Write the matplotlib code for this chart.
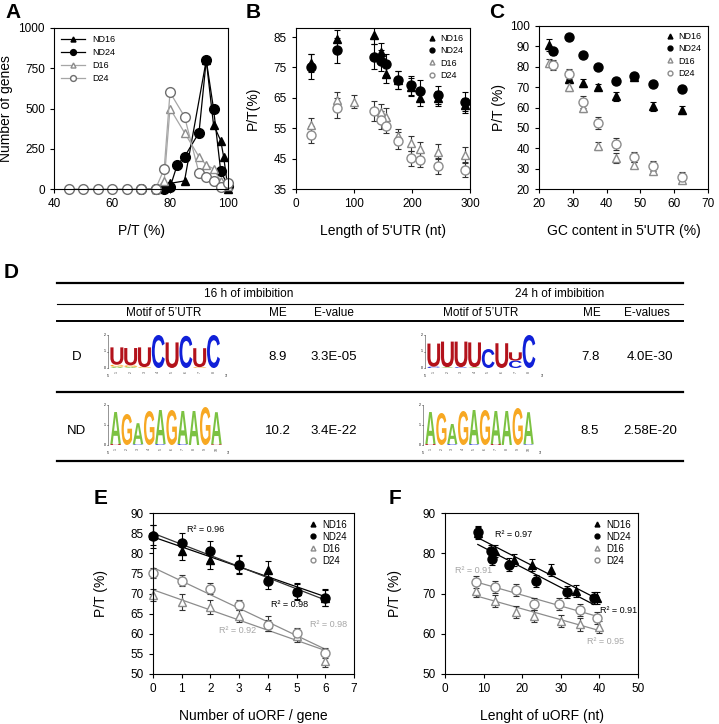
import matplotlib
matplotlib.use('Agg')
import matplotlib.pyplot as plt
import numpy as np
from matplotlib.textpath import TextPath
from matplotlib.patches import PathPatch
from matplotlib.font_manager import FontProperties
from matplotlib.transforms import Affine2D

plt.rcParams.update({
    'font.family': 'Liberation Sans',
    'xtick.direction': 'out',
    'ytick.direction': 'out',
    'xtick.major.size': 3,
    'ytick.major.size': 3,
    'xtick.labelsize': 8.5,
    'ytick.labelsize': 8.5,
    'axes.linewidth': 0.8,
    'axes.labelsize': 10,
})

W, H = 719, 724
GRAY = '#8c8c8c'
LGRAY = '#a6a6a6'

# ---- panel A : distribution of P/T ----
a_x_nd16 = [75, 78, 80, 85, 92.5, 95, 97.5, 98.5, 100]
a_nd16   = [0, 10, 35, 50, 800, 400, 300, 200, 0]
a_x_nd24 = [70, 75, 78, 80, 82.5, 85, 90, 92.5, 95, 97.5, 100]
a_nd24   = [0, 0, 0, 10, 150, 200, 350, 800, 500, 110, 20]
a_x_d16  = [75, 78, 80, 85, 90, 92.5, 95, 97.5, 100]
a_d16    = [0, 50, 500, 350, 200, 150, 125, 50, 20]
a_x_d24  = [45, 50, 55, 60, 65, 70, 75, 78, 80, 85, 90, 92.5, 95, 97.5, 100]
a_d24    = [0, 0, 0, 0, 0, 0, 0, 125, 600, 450, 100, 75, 50, 15, 40]

# ---- panel B : P/T vs 5'UTR length ----
b_x      = [26, 70, 134, 146, 155, 176, 199, 214, 244, 291]
b_nd16   = [76.5, 84.5, 85.8, 80.0, 72.8, 71.0, 68.5, 64.8, 64.8, 62.5]
b_nd16_e = [3, 3, 3, 3, 3, 3, 3, 2.5, 2.5, 2.5]
b_nd24   = [75.3, 80.6, 78.6, 77.2, 76.1, 71.0, 69.1, 67.4, 66.0, 63.8]
b_nd24_e = [4, 4, 4, 3.5, 3.5, 3, 3, 3.5, 3, 3]
b_x_d16  = [26, 70, 100, 146, 155, 176, 199, 214, 244, 291]
b_d16    = [56.0, 64.3, 63.8, 60.5, 58.8, 52.3, 50.1, 48.1, 47.3, 46.2]
b_d16_e  = [2.5, 2.5, 2.2, 2.5, 3, 2.5, 2.5, 2.5, 2.5, 2.5]
b_x_d24  = [26, 70, 134, 146, 155, 176, 199, 214, 244, 291]
b_d24    = [52.8, 61.6, 60.7, 57.7, 55.9, 50.9, 45.1, 44.6, 42.6, 41.3]
b_d24_e  = [2.8, 3.2, 3.2, 3, 2.5, 2.8, 2.5, 2.5, 2.5, 2.5]

# ---- panel C : P/T vs GC content ----
c_x      = [23, 28.8, 33, 37.5, 42.7, 48, 53.7, 62.2]
c_x_nd24 = [24, 28.8, 33, 37.5, 42.7, 48, 53.7, 62.2]
c_nd16   = [90.5, 73.9, 71.9, 70.0, 65.4, 75.0, 60.5, 58.9]
c_nd16_e = [3, 1.5, 2, 1.5, 2, 1.5, 2, 2]
c_nd24   = [87.5, 94.6, 85.8, 80.0, 73.1, 75.5, 71.6, 69.0]
c_nd24_e = [1.5, 1.5, 1.5, 1.5, 1.5, 1.5, 1.5, 1.5]
c_d16    = [82.0, 70.0, 60.0, 40.9, 35.2, 31.9, 28.8, 24.3]
c_d16_e  = [2, 2, 2, 2, 2.5, 1.5, 1.5, 1.5]
c_d24    = [80.7, 76.6, 62.6, 52.5, 42.0, 35.8, 31.2, 26.0]
c_d24_e  = [2.5, 2.5, 3, 3, 3, 2.5, 2.5, 2.5]

# ---- panel D : motif table ----
d_conditions = ['D', 'ND']
d_me_16  = ['8.9', '10.2']
d_ev_16  = ['3.3E-05', '3.4E-22']
d_me_24  = ['7.8', '8.5']
d_ev_24  = ['4.0E-30', '2.58E-20']
# each column: letters stacked bottom -> top as (letter, bits)
motif_d16 = [[('A', 0.08), ('G', 0.12), ('U', 1.05)],
             [('A', 0.06), ('G', 0.1), ('U', 1.05)],
             [('G', 0.05), ('U', 1.2)],
             [('C', 2.0)],
             [('U', 1.55)],
             [('C', 1.95)],
             [('G', 0.05), ('U', 1.15)],
             [('C', 2.0)]]
motif_d24 = [[('C', 0.08), ('U', 1.4)],
             [('A', 0.05), ('U', 1.55)],
             [('C', 0.05), ('U', 1.55)],
             [('A', 0.05), ('U', 1.5)],
             [('C', 1.15)],
             [('U', 1.5)],
             [('C', 0.45), ('U', 0.5)],
             [('C', 2.0)]]
motif_nd16 = [[('U', 0.05), ('A', 1.6)],
              [('G', 1.55)],
              [('C', 0.04), ('A', 1.05)],
              [('G', 1.7)],
              [('C', 0.05), ('A', 1.7)],
              [('G', 1.75)],
              [('C', 0.05), ('A', 1.65)],
              [('A', 1.7)],
              [('G', 1.9)],
              [('U', 0.04), ('A', 1.6)]]
motif_nd24 = [[('U', 0.05), ('A', 1.6)],
              [('G', 1.6)],
              [('C', 0.05), ('A', 1.0)],
              [('G', 1.7)],
              [('C', 0.05), ('A', 1.7)],
              [('G', 1.75)],
              [('U', 0.05), ('A', 1.65)],
              [('A', 1.7)],
              [('G', 1.85)],
              [('C', 0.04), ('A', 1.6)]]
LOGO_COLORS = {'A': '#7cc242', 'G': '#f7a823', 'U': '#b3121b', 'C': '#1020d8'}

# ---- panel E : P/T vs number of uORF ----
e_x      = [0, 1, 2, 3, 4, 5, 6]
e_nd16   = [84.6, 80.6, 78.4, 77.3, 75.9, 70.6, 69.0]
e_nd16_e = [2.5, 2.2, 2.2, 2.2, 2.2, 2.0, 2.0]
e_nd24   = [84.2, 82.5, 80.5, 77.1, 73.2, 70.4, 68.9]
e_nd24_e = [2.8, 2.5, 2.5, 2.2, 2.2, 2.0, 2.0]
e_d16    = [69.7, 67.8, 66.6, 64.5, 62.5, 59.4, 53.2]
e_d16_e  = [1.5, 2.0, 1.8, 1.5, 1.8, 1.5, 1.5]
e_d24    = [75.1, 73.2, 71.2, 67.2, 62.1, 60.2, 55.2]
e_d24_e  = [1.2, 1.3, 1.3, 1.3, 1.3, 1.3, 1.3]

# ---- panel F : P/T vs uORF length ----
f_x_nd16 = [8.5, 13, 18, 22.5, 27.5, 34, 39.5]
f_nd16   = [85.0, 80.5, 78.4, 77.0, 75.8, 70.7, 68.8]
f_x_nd24 = [8.5, 12, 12.3, 16.5, 23.5, 31.5, 38.5]
f_nd24   = [85.2, 80.6, 78.5, 77.2, 73.2, 70.4, 68.8]
f_x_d16  = [8, 13, 18.5, 23, 30, 35, 40]
f_d16    = [70.7, 68.2, 65.5, 64.3, 63.2, 62.3, 61.7]
f_x_d24  = [8, 13, 18.5, 23, 29.5, 35, 39.5]
f_d24    = [72.8, 71.6, 70.8, 67.5, 67.4, 66.0, 64.0]
f_err    = [1.5, 1.5, 1.5, 1.5, 1.5, 1.5, 1.5]


fig = plt.figure(figsize=(W / 100, H / 100), dpi=100)


def px_axes(left, top, right, bottom):
    return fig.add_axes([left / W, 1 - bottom / H, (right - left) / W, (bottom - top) / H])


def label(x, y, s):
    fig.text(x / W, 1 - y / H, s, fontsize=15, fontweight='bold', ha='left', va='center')


def styles():
    return [dict(fmt='^', color='k', mfc='k', mec='k', ms=6),
            dict(fmt='o', color='k', mfc='k', mec='k', ms=6.5),
            dict(fmt='^', color='#333333', mfc='white', mec=GRAY, ms=6),
            dict(fmt='o', color='#333333', mfc='white', mec=GRAY, ms=6.5)]


def small_legend(ax, fs=6.5, loc='upper right', spacing=0.35):
    hs = [plt.Line2D([], [], ls='none', marker='^', color='k', ms=3.5),
          plt.Line2D([], [], ls='none', marker='o', color='k', ms=3.5),
          plt.Line2D([], [], ls='none', marker='^', mfc='white', mec=GRAY, ms=3.5),
          plt.Line2D([], [], ls='none', marker='o', mfc='white', mec=GRAY, ms=3.5)]
    ax.legend(hs, ['ND16', 'ND24', 'D16', 'D24'], loc=loc, frameon=False, fontsize=fs,
              handlelength=0.8, handletextpad=0.6, labelspacing=spacing, borderaxespad=0.3)


def boxed(ax):
    ax.tick_params(top=False, right=False)
    for s in ax.spines.values():
        s.set_linewidth(0.8)


# ================= table / logos (pixel-coordinate layer) =================
tab = fig.add_axes([0, 0, 1, 1])
tab.set_xlim(0, W)
tab.set_ylim(H, 0)
tab.axis('off')

LOGO_FONT = FontProperties(family='Liberation Sans', weight='bold')


def draw_logo(x0, base, col_w, bit_h, columns):
    for i, stack in enumerate(columns):
        y = base
        for letter, bits in stack:
            h = bits * bit_h
            tp = TextPath((0, 0), letter, size=1, prop=LOGO_FONT)
            bb = tp.get_extents()
            tr = (Affine2D().translate(-bb.x0, -bb.y0)
                  .scale(col_w * 0.94 / bb.width, -h / bb.height)
                  .translate(x0 + i * col_w + col_w * 0.03, y))
            tab.add_patch(PathPatch(tr.transform_path(tp), fc=LOGO_COLORS[letter], ec='none'))
            y -= h
        tab.text(x0 + (i + 0.5) * col_w, base + 4, str(i + 1), fontsize=2.5,
                 rotation=90, ha='center', va='center', color='#444444')
    ax_x = x0 - 2
    tab.plot([ax_x, ax_x], [base, base - 2 * bit_h], color='#444444', lw=0.4)
    for k in range(3):
        tab.plot([ax_x - 1.5, ax_x], [base - k * bit_h] * 2, color='#444444', lw=0.4)
        tab.text(ax_x - 2.5, base - k * bit_h, str(k), fontsize=2.5, ha='right', va='center')
    tab.text(ax_x, base + 8, "5'", fontsize=2.5, ha='center', va='center')
    tab.text(x0 + len(columns) * col_w + 6, base + 8, "3'", fontsize=2.5, ha='center', va='center')


tab.plot([57, 683], [283, 283], color='k', lw=1.6)
tab.plot([57, 683], [304, 304], color='k', lw=0.8)
tab.plot([57, 683], [321, 321], color='k', lw=1.4)
tab.plot([57, 683], [392, 392], color='k', lw=1.6)
tab.plot([57, 683], [461, 461], color='k', lw=1.6)

tab.text(249, 294, '16 h of imbibition', fontsize=8.5, ha='center', va='center')
tab.text(560, 294, '24 h of imbibition', fontsize=8.5, ha='center', va='center')
for xc, s in [(164, "Motif of 5’UTR"), (278, 'ME'), (334, 'E-value'),
              (481, "Motif of 5’UTR"), (592, 'ME'), (647, 'E-values')]:
    tab.text(xc, 313, s, fontsize=8.5, ha='center', va='center')

row_y = [357, 431]
for i, cond in enumerate(d_conditions):
    tab.text(77, row_y[i], cond, fontsize=9.5, ha='center', va='center')
    tab.text(278, row_y[i], d_me_16[i], fontsize=9.5, ha='center', va='center')
    tab.text(334, row_y[i], d_ev_16[i], fontsize=9.5, ha='center', va='center')
    tab.text(590, row_y[i], d_me_24[i], fontsize=9.5, ha='center', va='center')
    tab.text(650, row_y[i], d_ev_24[i], fontsize=9.5, ha='center', va='center')

draw_logo(110, 368, 13.8, 16.5, motif_d16)
draw_logo(427, 368, 13.6, 16.5, motif_d24)
draw_logo(110, 445, 11.2, 20, motif_nd16)
draw_logo(425, 445, 10.9, 20, motif_nd24)
label(4, 273, 'D')

# ================= panel A =================
ax = px_axes(54, 28, 228, 189)
ax.plot(a_x_nd16, a_nd16, '-^', color='k', ms=6, lw=0.9, label='ND16', clip_on=False)
ax.plot(a_x_nd24, a_nd24, '-o', color='k', ms=7, lw=0.9, label='ND24', clip_on=False)
ax.plot(a_x_d16, a_d16, '-^', color=LGRAY, mfc='white', mec=GRAY, ms=6, lw=0.9,
        label='D16', clip_on=False)
ax.plot(a_x_d24, a_d24, '-o', color=LGRAY, mfc='white', mec='#6e6e6e', ms=7, lw=0.9,
        label='D24', clip_on=False)
ax.set_xlim(40, 100)
ax.set_ylim(0, 1000)
ax.set_xticks([40, 60, 80, 100])
ax.set_yticks([0, 250, 500, 750, 1000])
ax.set_xlabel('P/T (%)', labelpad=10)
ax.set_ylabel('Number of genes', labelpad=4)
ax.legend(loc='upper left', frameon=False, fontsize=6.5, markerscale=0.6,
          handlelength=2.6, labelspacing=0.45, borderaxespad=0.4)
boxed(ax)
label(5, 13, 'A')

# ================= panel B =================
ax = px_axes(296, 28, 470, 189)
st = styles()
for xs, ys, es, s in [(b_x, b_nd16, b_nd16_e, st[0]), (b_x, b_nd24, b_nd24_e, st[1]),
                      (b_x_d16, b_d16, b_d16_e, st[2]), (b_x_d24, b_d24, b_d24_e, st[3])]:
    ax.errorbar(xs, ys, yerr=es, capsize=2.5, elinewidth=0.8, capthick=0.8, **s)
ax.set_xlim(0, 300)
ax.set_ylim(35, 88)
ax.set_xticks([0, 100, 200, 300])
ax.set_yticks([35, 45, 55, 65, 75, 85])
ax.set_xlabel("Length of 5'UTR (nt)", labelpad=10)
ax.set_ylabel('P/T(%)', labelpad=10)
small_legend(ax)
boxed(ax)
label(246, 13, 'B')

# ================= panel C =================
ax = px_axes(539, 26, 708, 189)
for xs, ys, es, s in [(c_x, c_nd16, c_nd16_e, st[0]), (c_x_nd24, c_nd24, c_nd24_e, st[1]),
                      (c_x, c_d16, c_d16_e, st[2]), (c_x_nd24, c_d24, c_d24_e, st[3])]:
    ax.errorbar(xs, ys, yerr=es, capsize=2.5, elinewidth=0.8, capthick=0.8, **s)
ax.set_xlim(20, 70)
ax.set_ylim(20, 100)
ax.set_xticks([20, 30, 40, 50, 60, 70])
ax.set_yticks(range(20, 101, 10))
ax.set_xlabel("GC content in 5'UTR (%)", labelpad=10)
ax.set_ylabel('P/T (%)', labelpad=3)
small_legend(ax)
boxed(ax)
label(489, 13, 'C')


def fit_line(ax, xs, ys, color):
    k, b = np.polyfit(xs, ys, 1)
    xx = np.array([min(xs), max(xs)])
    ax.plot(xx, k * xx + b, color=color, lw=0.9, zorder=1)


# ================= panel E =================
ax = px_axes(153, 513, 354, 674)
fit_line(ax, e_x, e_nd16, 'k')
fit_line(ax, e_x, e_nd24, '#333333')
fit_line(ax, e_x, e_d16, GRAY)
fit_line(ax, e_x, e_d24, GRAY)
for ys, es, s in [(e_nd16, e_nd16_e, st[0]), (e_nd24, e_nd24_e, st[1]),
                  (e_d16, e_d16_e, st[2]), (e_d24, e_d24_e, st[3])]:
    ax.errorbar(e_x, ys, yerr=es, capsize=2.5, elinewidth=0.8, capthick=0.8,
                clip_on=False, **s)
ax.text(1.85, 85.8, 'R² = 0.96', fontsize=6.5, ha='center', va='center')
ax.text(4.75, 67.2, 'R² = 0.98', fontsize=6.5, ha='center', va='center')
ax.text(2.95, 60.7, 'R² = 0.92', fontsize=6.5, ha='center', va='center', color=LGRAY)
ax.text(6.1, 62.4, 'R² = 0.98', fontsize=6.5, ha='center', va='center', color=LGRAY)
ax.set_xlim(0, 7)
ax.set_ylim(50, 90)
ax.set_xticks(range(0, 8))
ax.set_yticks(range(50, 91, 5))
ax.set_xlabel('Number of uORF / gene', labelpad=10)
ax.set_ylabel('P/T (%)', labelpad=16)
small_legend(ax, fs=7, spacing=0.2)
boxed(ax)
label(94, 499, 'E')

# ================= panel F =================
ax = px_axes(445, 513, 638, 674)
fit_line(ax, f_x_nd16, f_nd16, 'k')
fit_line(ax, f_x_nd24, f_nd24, 'k')
fit_line(ax, f_x_d16, f_d16, GRAY)
fit_line(ax, f_x_d24, f_d24, GRAY)
for xs, ys, s in [(f_x_nd16, f_nd16, st[0]), (f_x_nd24, f_nd24, st[1]),
                  (f_x_d16, f_d16, st[2]), (f_x_d24, f_d24, st[3])]:
    ax.errorbar(xs, ys, yerr=f_err, capsize=2.5, elinewidth=0.8, capthick=0.8, **s)
ax.text(17.7, 84.7, 'R² = 0.97', fontsize=6.5, ha='center', va='center')
ax.text(7.3, 75.8, 'R² = 0.91', fontsize=6.5, ha='center', va='center', color=LGRAY)
ax.text(45, 65.9, 'R² = 0.91', fontsize=6.5, ha='center', va='center')
ax.text(41.7, 58.0, 'R² = 0.95', fontsize=6.5, ha='center', va='center', color=LGRAY)
ax.set_xlim(0, 50)
ax.set_ylim(50, 90)
ax.set_xticks(range(0, 51, 10))
ax.set_yticks(range(50, 91, 10))
ax.set_xlabel('Lenght of uORF (nt)', labelpad=10)
ax.set_ylabel('P/T (%)', labelpad=15)
small_legend(ax, fs=7, spacing=0.2)
boxed(ax)
label(389, 499, 'F')

fig.savefig('out.png', dpi=100)
